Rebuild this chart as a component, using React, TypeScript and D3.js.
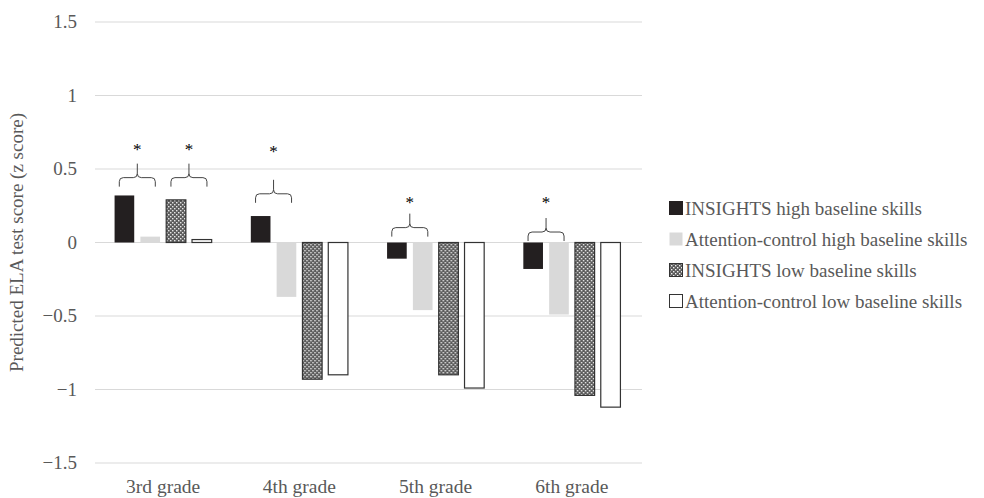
import React from "react"
import * as d3 from "d3"

// Data
const grades = ["3rd grade", "4th grade", "5th grade", "6th grade"]
const seriesNames = [
  "INSIGHTS high baseline skills",
  "Attention-control high baseline skills",
  "INSIGHTS low baseline skills",
  "Attention-control low baseline skills"
]
const insightsHigh = [0.32, 0.18, -0.11, -0.18]
const controlHigh = [0.04, -0.37, -0.46, -0.49]
const insightsLow = [0.29, -0.93, -0.9, -1.04]
const controlLow = [0.02, -0.9, -0.99, -1.12]
const yTicks = [1.5, 1, 0.5, 0, -0.5, -1, -1.5]

// significance braces: grade, first series index, base of brace, star height
const braceGrade = ["3rd grade", "3rd grade", "4th grade", "5th grade", "6th grade"]
const braceFrom = [0, 2, 0, 0, 0]
const braceBase = [0.38, 0.38, 0.27, 0.04, 0.01]
const braceStar = [0.66, 0.66, 0.65, 0.3, 0.3]

const fmt = (v: number) => (v < 0 ? "\u2212" + Math.abs(v) : String(v))

export default function App() {
  const totalW = 984
  const totalH = 498
  const left = 95
  const right = 640
  const y = d3.scaleLinear().domain([-1.5, 1.5]).range([463, 22])
  const x0 = d3.scaleBand().domain(grades).range([left, right]).paddingInner(0.28).paddingOuter(0.14)
  const x1 = d3.scaleBand().domain(d3.range(4).map(String)).range([0, x0.bandwidth()]).paddingInner(0.2)
  const values = [insightsHigh, controlHigh, insightsLow, controlLow]
  const fills = ["#231f20", "#d9d9d9", "url(#hatch)", "#ffffff"]
  const strokes = ["#231f20", "none", "#333", "#333"]
  const textColor = "#595959"
  const font = "'Liberation Serif', 'Times New Roman', serif"

  const bracePath = (xa: number, xb: number, yb: number) => {
    const yh = yb - 9
    const yt = yb - 23
    const xm = (xa + xb) / 2
    const r = 4
    return `M${xa},${yb} L${xa},${yh + r} Q${xa},${yh} ${xa + r},${yh} L${xm - r},${yh} Q${xm},${yh} ${xm},${yh - r} L${xm},${yt} M${xm},${yh - r} Q${xm},${yh} ${xm + r},${yh} L${xb - r},${yh} Q${xb},${yh} ${xb},${yh + r} L${xb},${yb}`
  }

  return (
    <svg width={totalW} height={totalH} style={{ position: "absolute", left: 0, top: 0 }} fontFamily={font}>
      <defs>
        <pattern id="hatch" width="4" height="4" patternUnits="userSpaceOnUse">
          <rect width="4" height="4" fill="#5a5a5a" />
          <rect x="0" y="0" width="1.4" height="1.4" fill="#f0f0f0" />
          <rect x="2" y="2" width="1.4" height="1.4" fill="#f0f0f0" />
        </pattern>
      </defs>
      {yTicks.map((t) => (
        <g key={`tick-${t}`}>
          <line x1={left} x2={right + 2} y1={y(t)} y2={y(t)} stroke="#d9d9d9" strokeWidth={1} />
          <text x={77} y={y(t) + 6} fontSize="19px" fill={textColor} textAnchor="end">
            {fmt(t)}
          </text>
        </g>
      ))}
      <text
        transform={`translate(23, ${y(0)}) rotate(-90)`}
        fontSize="19px"
        fill={textColor}
        textAnchor="middle"
      >
        Predicted ELA test score (z score)
      </text>
      {grades.map((g, gi) => (
        <g key={g} transform={`translate(${x0(g)}, 0)`}>
          {values.map((vals, si) => {
            const v = vals[gi]
            const bx = x1(String(si)) as number
            const top = y(Math.max(0, v))
            const h = Math.abs(y(v) - y(0))
            return (
              <rect
                key={`${g}-${si}`}
                x={bx + 0.5}
                y={top}
                width={x1.bandwidth() - 1}
                height={h}
                fill={fills[si]}
                stroke={strokes[si]}
                strokeWidth={si === 0 ? 0 : 1.2}
              />
            )
          })}
          <text x={x0.bandwidth() / 2} y={493} fontSize="19.5px" fill={textColor} textAnchor="middle">
            {g}
          </text>
        </g>
      ))}
      {braceGrade.map((g, i) => {
        const gx = x0(g) as number
        const a = gx + (x1(String(braceFrom[i])) as number) + x1.bandwidth()
        const b = gx + (x1(String(braceFrom[i] + 1)) as number)
        const mid = (a + b) / 2
        return (
          <g key={`brace-${i}`}>
            <path d={bracePath(mid - 18, mid + 18, y(braceBase[i]))} fill="none" stroke="#444" strokeWidth={1} />
            <text x={mid} y={y(braceStar[i]) + 10} fontSize="17px" fill="#000" textAnchor="middle">
              *
            </text>
          </g>
        )
      })}
      {seriesNames.map((s, i) => (
        <g key={s} transform={`translate(669, ${201 + i * 31})`}>
          <rect
            x={0.5}
            y={0.5}
            width={13}
            height={13}
            fill={fills[i]}
            stroke={strokes[i]}
            strokeWidth={1}
          />
          <text x={16} y={14} fontSize="19px" fill={textColor}>
            {s}
          </text>
        </g>
      ))}
    </svg>
  )
}
